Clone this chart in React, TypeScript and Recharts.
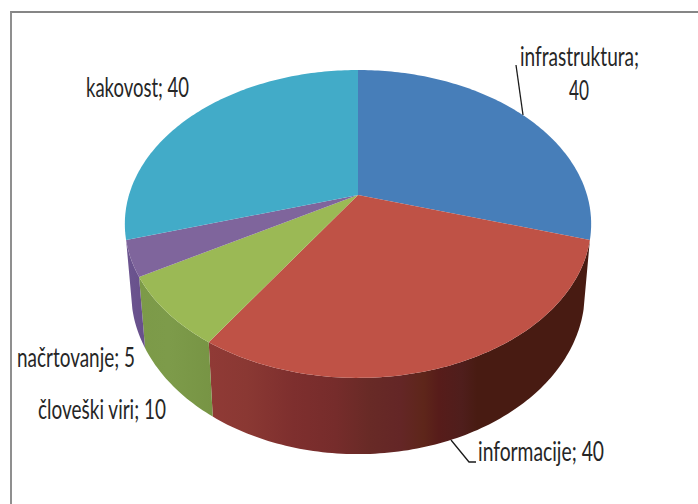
import { PieChart, Pie, Cell } from 'recharts'

const categories = ['infrastruktura', 'informacije', 'človeški viri', 'načrtovanje', 'kakovost']
const values = [40, 40, 10, 5, 40]
const topColors = ['#477eb9', '#bf5246', '#9bb955', '#7f659c', '#42abc8']
const wallFills = ['none', 'url(#wallRed)', 'url(#wallGreen)', 'url(#wallPurple)', 'none']

const data = categories.map((name, i) => ({ name, value: values[i] }))

// Perspective of the tilted disc, fitted to the reference
const TILT = -0.188
const TOP_RX = 229
const BOTTOM_RX = 222.8
const BOTTOM_RY = 156
const BOTTOM_Y = 262
const CX = 358
const CY = 195
const RADIUS = 148.5

function topPoint(deg: number, r: number) {
  const rad = (deg * Math.PI) / 180
  const u = Math.cos(rad)
  const v = -Math.sin(rad)
  const w = 1 + TILT * v
  return [CX + (TOP_RX * u) / w, CY + (r * v) / w]
}

function bottomPoint(deg: number) {
  const rad = (deg * Math.PI) / 180
  const u = Math.cos(rad)
  const v = -Math.sin(rad)
  const w = 1 + TILT * v
  return [CX + (BOTTOM_RX * u) / w, BOTTOM_Y + (BOTTOM_RY * v) / w]
}

function arcAngles(start: number, end: number) {
  const steps = Math.max(8, Math.ceil(Math.abs(end - start)))
  return Array.from({ length: steps + 1 }, (_, i) => start + ((end - start) * i) / steps)
}

const toPath = (pts: number[][]) =>
  pts.map((p, i) => `${i ? 'L' : 'M'}${p[0].toFixed(2)} ${p[1].toFixed(2)}`).join(' ') + ' Z'

function Slice(props: any) {
  const { startAngle, endAngle, outerRadius, fill, index } = props
  const angles = arcAngles(startAngle, endAngle)
  const mid = (startAngle + endAngle) / 2
  const showWall = Math.sin((mid * Math.PI) / 180) < 0
  const top = angles.map((a) => topPoint(a, outerRadius))
  const wall = [...top, ...[...angles].reverse().map(bottomPoint)]
  return (
    <g>
      {showWall && <path d={toPath(wall)} fill={wallFills[index]} stroke="none" />}
      <path d={toPath([[CX, CY], ...top])} fill={fill} stroke="none" />
    </g>
  )
}

// label placement: text rows and leader lines, by slice index
const labelRows = [
  [
    { text: 'infrastruktura;', x: 520, y: 65.5, w: 119 },
    { text: '40', x: 569, y: 100, w: 20 },
  ],
  [{ text: 'informacije; 40', x: 478, y: 461, w: 126 }],
  [{ text: 'človeški viri; 10', x: 38, y: 419, w: 128 }],
  [{ text: 'načrtovanje; 5', x: 17, y: 367, w: 118 }],
  [{ text: 'kakovost; 40', x: 86, y: 97, w: 103 }],
]
const leaderLines: Record<number, string> = {
  0: '516,65 523,115',
  1: '451,440 469,462 476,462',
}

function SliceLabel({ index }: any) {
  return (
    <g>
      {leaderLines[index] && <polyline points={leaderLines[index]} fill="none" stroke="#1a1a1a" strokeWidth={1.3} />}
      {labelRows[index].map((row) => (
        <text
          key={row.text}
          x={row.x}
          y={row.y}
          textLength={row.w}
          lengthAdjust="spacingAndGlyphs"
          fontFamily="Lato, 'Open Sans', sans-serif"
          fontSize={27}
          fill="#262626"
        >
          {row.text}
        </text>
      ))}
    </g>
  )
}

export default function App() {
  return (
    <div style={{ position: 'absolute', left: 0, top: 0, width: 698, height: 504, background: '#fff', overflow: 'hidden' }}>
      <div style={{ position: 'absolute', left: 10, top: 11, right: -4, bottom: -4, borderLeft: '2px solid #8f8f8f', borderTop: '2px solid #868686' }} />
      <div style={{ position: 'absolute', left: 0, top: 0 }}>
        <PieChart width={698} height={504} margin={{ top: 0, right: 0, bottom: 0, left: 0 }}>
          <defs>
            <linearGradient id="wallRed" gradientUnits="userSpaceOnUse" x1="209" y1="0" x2="592" y2="0">
              <stop offset="0%" stopColor="#903a36" />
              <stop offset="10%" stopColor="#8a3833" />
              <stop offset="22%" stopColor="#7e2f2e" />
              <stop offset="33%" stopColor="#762c2b" />
              <stop offset="42%" stopColor="#682a26" />
              <stop offset="50%" stopColor="#642626" />
              <stop offset="56%" stopColor="#5e261a" />
              <stop offset="60%" stopColor="#571c1a" />
              <stop offset="66%" stopColor="#4f1e1c" />
              <stop offset="70%" stopColor="#481b12" />
              <stop offset="100%" stopColor="#481b12" />
            </linearGradient>
            <linearGradient id="wallGreen" gradientUnits="userSpaceOnUse" x1="139" y1="0" x2="213" y2="0">
              <stop offset="0%" stopColor="#7c9a48" />
              <stop offset="40%" stopColor="#7d9b4a" />
              <stop offset="100%" stopColor="#779444" />
            </linearGradient>
            <linearGradient id="wallPurple" gradientUnits="userSpaceOnUse" x1="126" y1="0" x2="146" y2="0">
              <stop offset="0%" stopColor="#6c5590" />
              <stop offset="100%" stopColor="#674f8a" />
            </linearGradient>
          </defs>
          <Pie
            data={data}
            dataKey="value"
            nameKey="name"
            cx={CX}
            cy={CY}
            outerRadius={RADIUS}
            startAngle={90}
            endAngle={-270}
            stroke="none"
            shape={Slice}
            label={SliceLabel}
            labelLine={false}
            isAnimationActive={false}
          >
            {data.map((d, i) => (
              <Cell key={d.name} fill={topColors[i]} />
            ))}
          </Pie>
        </PieChart>
      </div>
    </div>
  )
}
